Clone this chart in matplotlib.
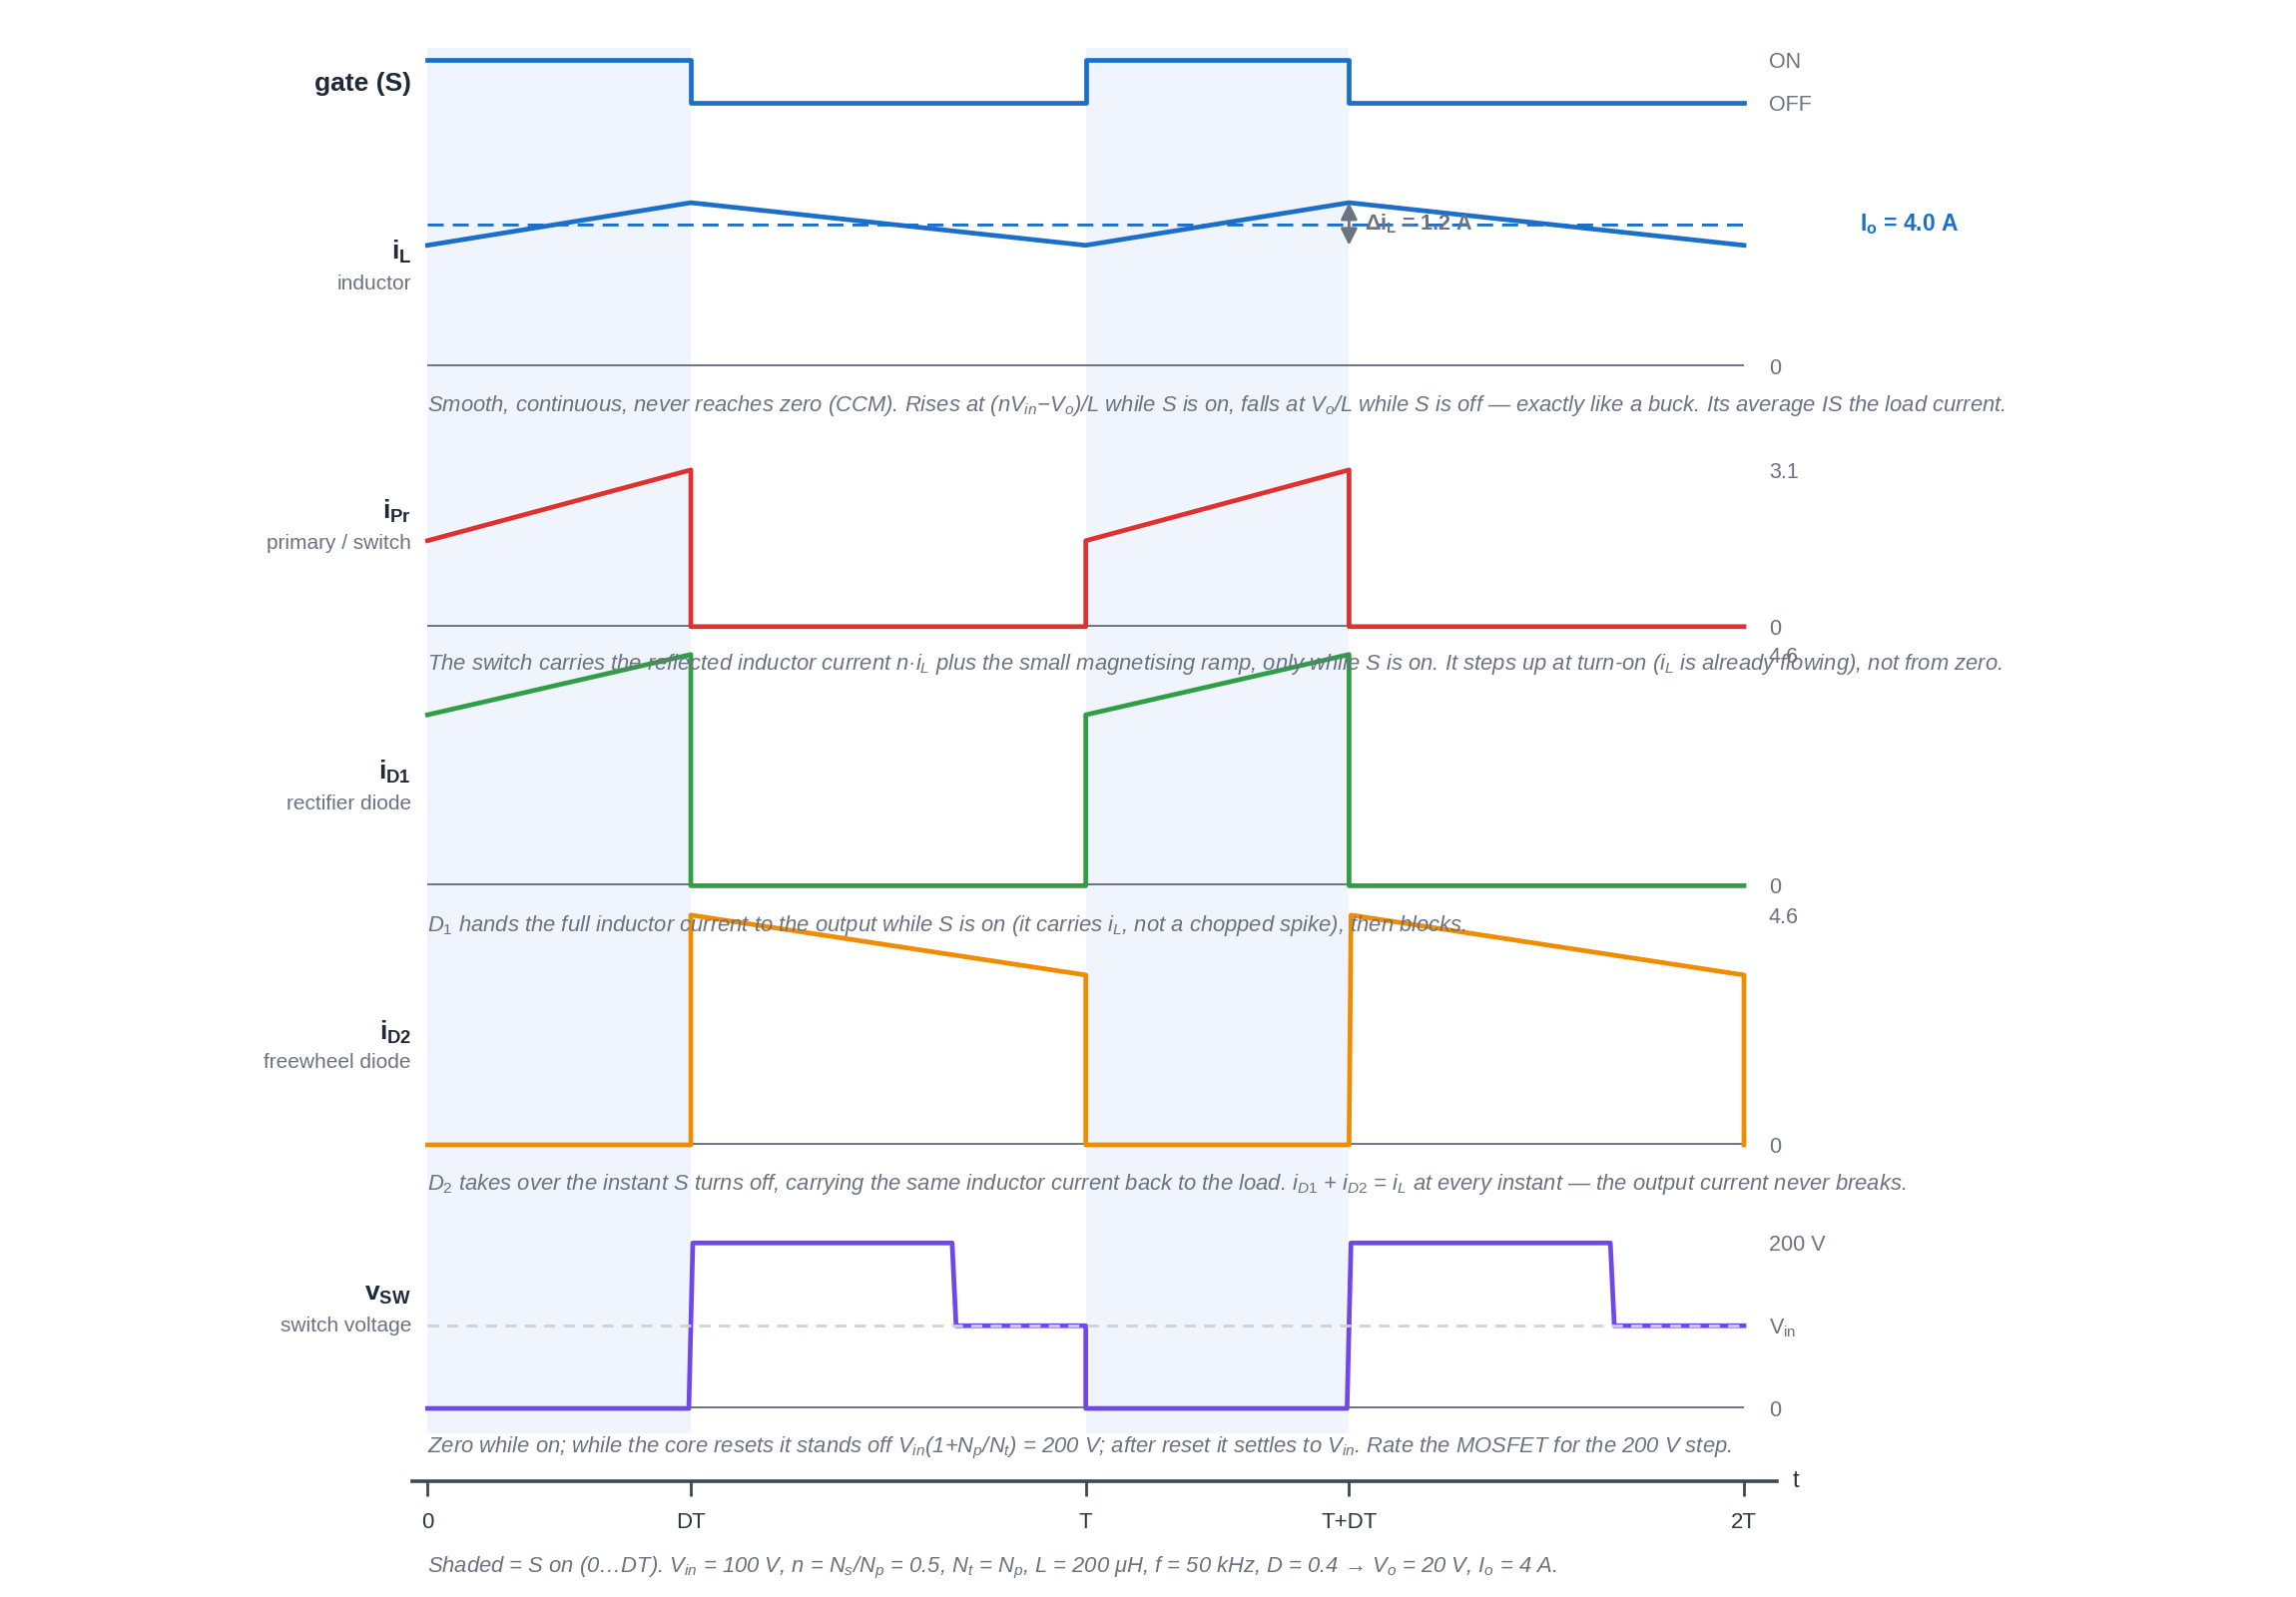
import matplotlib
matplotlib.use('Agg')
import matplotlib.pyplot as plt
import matplotlib.transforms as mtransforms

plt.rcParams['font.family'] = ['Liberation Sans', 'DejaVu Sans']
plt.rcParams['mathtext.fontset'] = 'custom'
plt.rcParams['mathtext.rm'] = 'Liberation Sans'
plt.rcParams['mathtext.it'] = 'Liberation Sans:italic'
plt.rcParams['mathtext.bf'] = 'Liberation Sans:bold'

# ---- data (time in units of T) ----
D = 0.4
Io = 4.0
dIL = 1.2
Vin = 100
Vsw_max = 200

gate_t = [0, 0.4, 0.4, 1.0, 1.0, 1.4, 1.4, 2.0]
gate_v = [1, 1, 0, 0, 1, 1, 0, 0]

iL_t = [0, 0.4, 1.0, 1.4, 2.0]
iL_v = [3.4, 4.6, 3.4, 4.6, 3.4]

iPr_t = [0, 0.4, 0.4, 1.0, 1.0, 1.4, 1.4, 2.0]
iPr_v = [1.7, 3.1, 0, 0, 1.7, 3.1, 0, 0]

iD1_t = [0, 0.4, 0.4, 1.0, 1.0, 1.4, 1.4, 2.0]
iD1_v = [3.4, 4.6, 0, 0, 3.4, 4.6, 0, 0]

iD2_t = [0, 0.4, 0.4, 1.0, 1.0, 1.4, 1.403, 2.0, 2.0]
iD2_v = [0, 0, 4.6, 3.4, 0, 0, 4.6, 3.4, 0]

vsw_t = [0, 0.397, 0.403, 0.797, 0.803, 1.0, 1.0, 1.397, 1.403, 1.797, 1.803, 2.0]
vsw_v = [0, 0, 200, 200, 100, 100, 0, 0, 200, 200, 100, 100]

time_ticks = [0, 0.4, 1.0, 1.4, 2.0]
time_labels = ['0', 'DT', 'T', 'T+DT', '2T']

BLUE = '#1b6fc8'
RED = '#e03131'
GREEN = '#2f9e44'
ORANGE = '#f08c00'
PURPLE = '#7048e8'
GRAY = '#6b7280'
DARK = '#1f2937'
SHADE = '#eff4fd'

W, H = 2300, 1600
fig = plt.figure(figsize=(23, 16), dpi=100)

X0, X2 = 428.3, 1747.0   # pixel x of t=0 and t=2T


def add_panel(ybot, vbot, ytop, vtop):
    # axes whose y range maps vbot->ybot px and vtop->ytop px (px from top)
    ax = fig.add_axes([X0 / W, 1 - ybot / H, (X2 - X0) / W, (ybot - ytop) / H])
    ax.set_xlim(0, 2)
    ax.set_ylim(vbot, vtop)
    ax.patch.set_alpha(0)
    for s in ax.spines.values():
        s.set_visible(False)
    ax.set_xticks([])
    ax.yaxis.tick_right()
    ax.tick_params(axis='y', length=0, pad=18, labelsize=15.5, labelcolor=GRAY)
    return ax


# shading for S on
bg = fig.add_axes([X0 / W, 1 - 1436 / H, (X2 - X0) / W, (1436 - 48) / H])
bg.set_xlim(0, 2)
bg.axis('off')
for a in [0, 1.0]:
    bg.axvspan(a, a + D, color=SHADE, lw=0)

LW = 3.4
ZLW = 2.8

# gate
ax = add_panel(102.7, 0, 60.1, 1)
ax.plot(gate_t, gate_v, color=BLUE, lw=LW, clip_on=False)
ax.set_yticks([0, 1], ['OFF', 'ON'])

# inductor current
ax = add_panel(366.7, 0, 224.4, 4.0)
ax.axhline(0, color=GRAY, lw=ZLW, zorder=1)
ax.plot([0, 2], [Io, Io], color=BLUE, lw=3.4, ls=(0, (3.4, 1.9)), zorder=2)
ax.plot(iL_t, iL_v, color=BLUE, lw=LW, clip_on=False, zorder=3)
ax.set_yticks([0], ['0'])
ax.annotate('', xy=(1.4, 4.6), xytext=(1.4, 3.4), annotation_clip=False,
            arrowprops=dict(arrowstyle='<|-|>,head_length=0.5,head_width=0.25',
                            color=GRAY, lw=2.0, mutation_scale=20,
                            shrinkA=0, shrinkB=0), zorder=4)
ax.text(1.424, Io, r'Δ$\mathbf{i_L}$ = 1.2 A', color=GRAY, fontsize=15.5,
        fontweight='bold', ha='left', va='center', zorder=4)
ax.text(2.176, Io, r'$\mathbf{I_o}$ = 4.0 A', color=BLUE, fontsize=16.5,
        fontweight='bold', ha='left', va='center', clip_on=False)

# primary current
ax = add_panel(627.8, 0, 470.8, 3.1)
ax.axhline(0, color=GRAY, lw=ZLW, zorder=1)
ax.plot(iPr_t, iPr_v, color=RED, lw=LW, clip_on=False, zorder=3)
ax.set_yticks([0, 3.1], ['0', '3.1'])

# D1
ax = add_panel(887.4, 0, 655.7, 4.6)
ax.axhline(0, color=GRAY, lw=ZLW, zorder=1)
ax.plot(iD1_t, iD1_v, color=GREEN, lw=LW, clip_on=False, zorder=3)
ax.set_yticks([0, 4.6], ['0', '4.6'])

# D2
ax = add_panel(1147.0, 0, 916.8, 4.6)
ax.axhline(0, color=GRAY, lw=ZLW, zorder=1)
ax.plot(iD2_t, iD2_v, color=ORANGE, lw=LW, clip_on=False, zorder=3)
ax.set_yticks([0, 4.6], ['0', '4.6'])

# switch voltage
ax = add_panel(1411.1, 0, 1245.3, 200)
ax.axhline(0, color=GRAY, lw=ZLW, zorder=1)
ax.plot(vsw_t, vsw_v, color=PURPLE, lw=LW, clip_on=False, zorder=3)
ax.axhline(Vin, color='#cdd1da', lw=2.0, ls=(0, (4, 3)), zorder=4)
ax.set_yticks([0, Vin, Vsw_max], ['0', r'$\mathrm{V_{in}}$', '200 V'])

# time axis
ta = fig.add_axes([413 / W, 1 - 1484 / H, (1780 - 413) / W, 0.0001])
ta.set_xlim(-0.0232, 2.050)
ta.patch.set_alpha(0)
for s in ['top', 'left', 'right']:
    ta.spines[s].set_visible(False)
ta.spines['bottom'].set_color('#3f4754')
ta.spines['bottom'].set_linewidth(2.6)
ta.set_yticks([])
ta.set_xticks(time_ticks, time_labels)
ta.tick_params(axis='x', direction='out', length=11, width=2, color='#3f4754',
               labelsize=16, labelcolor='#2d3440', pad=11)
ta.text(2.079, 0, 't', fontsize=17, color='#2d3440', ha='center', va='center',
        transform=mtransforms.blended_transform_factory(ta.transData, ta.transAxes))

# left labels
def ftext(xpx, ypx, s, **kw):
    fig.text(xpx / W, 1 - ypx / H, s, **kw)

ftext(412, 83.6, 'gate (S)', fontsize=19, fontweight='bold', color=DARK, ha='right', va='center')
main_labels = [(r'$\mathbf{i_L}$', 'inductor', 252, 285),
               (r'$\mathbf{i_{Pr}}$', 'primary / switch', 512, 544),
               (r'$\mathbf{i_{D1}}$', 'rectifier diode', 773, 805),
               (r'$\mathbf{i_{D2}}$', 'freewheel diode', 1034, 1065),
               (r'$\mathbf{v_{SW}}$', 'switch voltage', 1297, 1329)]
for lab, sub, y1, y2 in main_labels:
    ftext(412, y1, lab, fontsize=19, color=DARK, ha='right', va='center')
    ftext(412, y2, sub, fontsize=15, color=GRAY, ha='right', va='center')

# captions
cap_kw = dict(fontsize=15.8, style='italic', color=GRAY, ha='left', va='center')
ftext(428, 406.5, 'Smooth, continuous, never reaches zero (CCM). Rises at (n$V_{in}$−$V_o$)/L while S is on, '
      'falls at $V_o$/L while S is off — exactly like a buck. Its average IS the load current.', **cap_kw)
ftext(428, 666, 'The switch carries the reflected inductor current n·$i_L$ plus the small magnetising ramp, '
      'only while S is on. It steps up at turn-on ($i_L$ is already flowing), not from zero.', **cap_kw)
ftext(428, 927, r'$D_{\mathit{1}}$ hands the full inductor current to the output while S is on '
      r'(it carries $i_L$, not a chopped spike), then blocks.', **cap_kw)
ftext(428, 1186.7, r'$D_{\mathit{2}}$ takes over the instant S turns off, carrying the same inductor current '
      r'back to the load. $i_{D\mathit{1}}$ + $i_{D\mathit{2}}$ = $i_L$ at every instant — the output current never breaks.',
      **cap_kw)
ftext(428, 1450.7, 'Zero while on; while the core resets it stands off $V_{in}$(1+$N_p$/$N_t$) = 200 V; '
      'after reset it settles to $V_{in}$. Rate the MOSFET for the 200 V step.', **cap_kw)
ftext(428, 1571, 'Shaded = S on (0…DT). $V_{in}$ = 100 V, n = $N_s$/$N_p$ = 0.5, $N_t$ = $N_p$, '
      'L = 200 μH, f = 50 kHz, D = 0.4 → $V_o$ = 20 V, $I_o$ = 4 A.', **cap_kw)

fig.savefig('out.png', dpi=100, facecolor='white')
